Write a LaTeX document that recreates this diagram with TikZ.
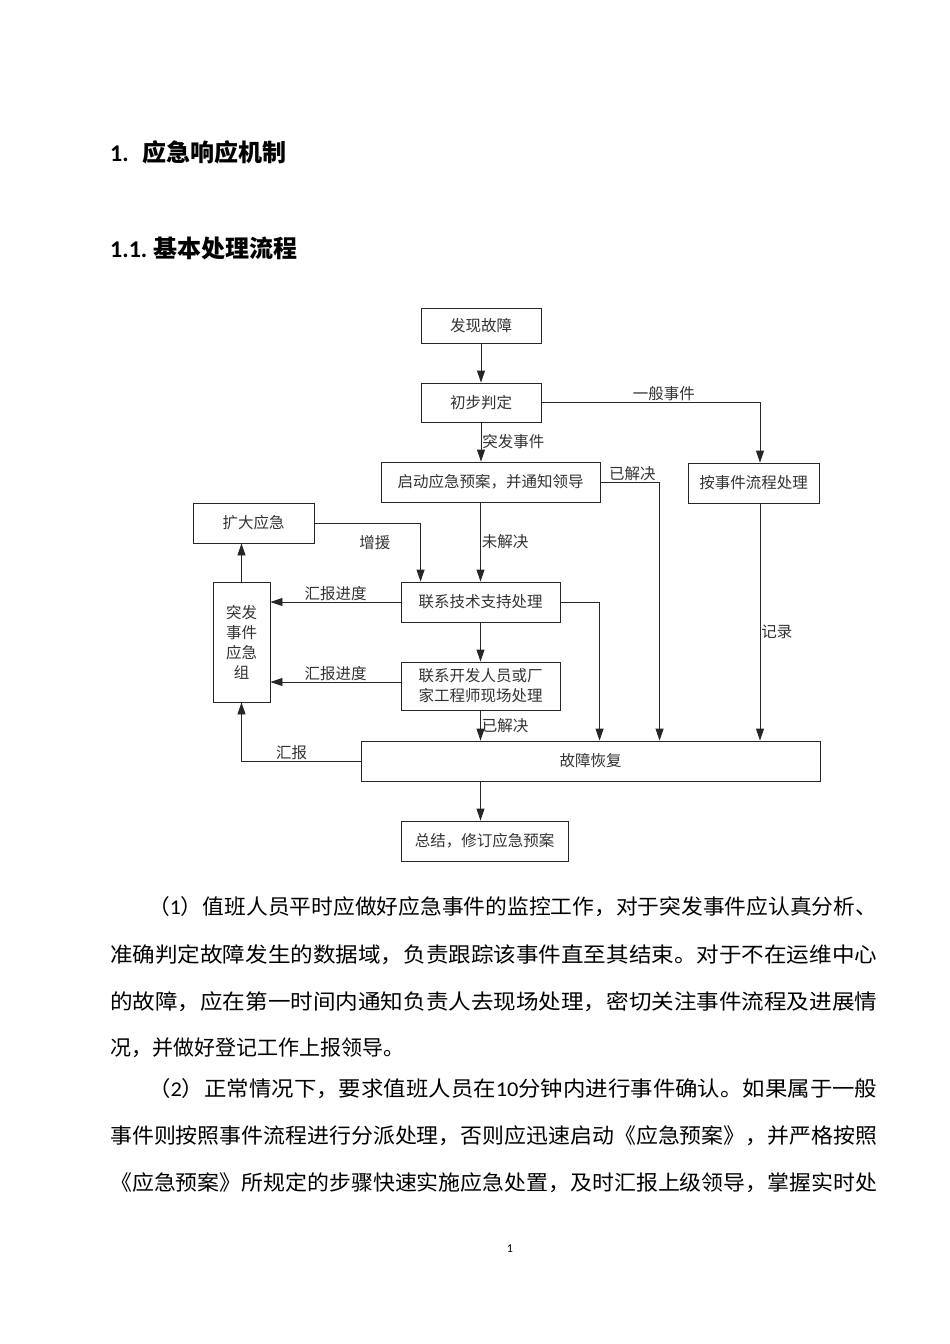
\documentclass[tikz,border=0pt]{standalone}
\usepackage{fontspec}
\usepackage{graphicx}
\setmainfont{Carlito}
\newfontfamily\cjk{Noto Sans CJK SC}
\usetikzlibrary{arrows.meta,calc}
\newcommand\jline[2]{\resizebox{#1pt}{\height}{#2}}
\begin{document}
\begin{tikzpicture}[x=1pt,y=-1pt,
  fc/.style={font=\cjk\fontsize{15.5}{20}\selectfont, text=black!80},
  box/.style={draw=black!85, line width=0.9pt, fc, inner sep=0pt, align=center},
  arr/.style={draw=black!85, line width=0.9pt, -{Triangle[length=12pt,width=8pt]}},
  lbl/.style={fc, inner sep=1pt},
  body/.style={font=\cjk\fontsize{21}{24}\selectfont, anchor=west, inner sep=0pt},
  head/.style={font=\bfseries\fontsize{24}{28}\selectfont, anchor=west, inner sep=0pt},
]
\useasboundingbox[fill=white] (0,0) rectangle (950,1344);

% headings
\node[head] (h1) at (110,152) {1.\hspace{14pt}{\cjk 应急响应机制}};
\node[head] (h2) at (110,248) {1.1.\hspace{6pt}{\cjk 基本处理流程}};

% flowchart boxes
\node[box, minimum width=120, minimum height=35] (found) at (481,325.5) {发现故障};
\node[box, minimum width=120, minimum height=39] (judge) at (481,402.5) {初步判定};
\node[box, minimum width=219, minimum height=40] (start) at (490.5,482) {启动应急预案，并通知领导};
\node[box, minimum width=131, minimum height=40] (normal) at (753.5,483) {按事件流程处理};
\node[box, minimum width=121, minimum height=40] (expand) at (253.5,523) {扩大应急};
\node[box, minimum width=57, minimum height=120] (group) at (241.5,642) {突发\\事件\\应急\\组};
\node[box, minimum width=159, minimum height=40] (tech) at (480.5,602) {联系技术支持处理};
\node[box, minimum width=159, minimum height=48] (dev) at (480.5,686) {联系开发人员或厂\\家工程师现场处理};
\node[box, minimum width=459, minimum height=40] (recover) at (590.5,761) {故障恢复};
\node[box, minimum width=167, minimum height=40] (summary) at (484.5,841) {总结，修订应急预案};

\coordinate (nS) at ([xshift=6.5pt]normal.south);

% connectors
\draw[arr] (found.south) -- (judge.north);
\draw[arr] (judge.south) -- (judge.south |- start.north) node[lbl, midway, anchor=west] {突发事件};
\draw[arr] (judge.east) -| ([xshift=6.5pt]normal.north) node[lbl, pos=0.28, above] {一般事件};
\draw[arr] (start.east) -| ($(recover.north west)+(299,0)$) node[lbl, pos=0.27, above] {已解决};
\draw[arr] (nS) -- (nS |- recover.north) node[lbl, pos=0.54, right] {记录};
\draw[arr] (tech.north |- start.south) -- (tech.north) node[lbl, midway, right] {未解决};
\draw[arr] (expand.east) -| ($(tech.north west)+(20,0)$) node[lbl, pos=0.285, below=11pt] {增援};
\draw[arr] (tech.west) -- (tech.west -| group.east) node[lbl, midway, above] {汇报进度};
\draw[arr] ([yshift=4pt]dev.west) -- ([yshift=4pt]dev.west -| group.east) node[lbl, midway, above] {汇报进度};
\draw[arr] (tech.east) -| ($(recover.north west)+(239,0)$);
\draw[arr] (tech.south) -- (dev.north);
\draw[arr] (dev.south) -- (dev.south |- recover.north) node[lbl, midway, right] {已解决};
\draw[arr] (recover.west) -| (group.south) node[lbl, pos=0.29, above] {汇报};
\draw[arr] (group.north) -- (group.north |- expand.south);
\draw[arr] (dev.south |- recover.south) -- (dev.south |- summary.north);

% body text
\node[body] (l1) at (148,907) {\jline{729}{（{\rmfamily 1}）值班人员平时应做好应急事件的监控工作，对于突发事件应认真分析、}};
\node[body] (l2) at (110,955) {\jline{767}{准确判定故障发生的数据域，负责跟踪该事件直至其结束。对于不在运维中心}};
\node[body] (l3) at (110,1002) {\jline{767}{的故障，应在第一时间内通知负责人去现场处理，密切关注事件流程及进展情}};
\node[body] (l4) at (110,1048) {况，并做好登记工作上报领导。};
\node[body] (l5) at (148,1089) {\jline{729}{（{\rmfamily 2}）正常情况下，要求值班人员在{\rmfamily 10}分钟内进行事件确认。如果属于一般}};
\node[body] (l6) at (110,1136) {\jline{767}{事件则按照事件流程进行分派处理，否则应迅速启动《应急预案》，并严格按照}};
\node[body] (l7) at (110,1183) {\jline{767}{《应急预案》所规定的步骤快速实施应急处置，及时汇报上级领导，掌握实时处}};

\node[font=\fontsize{12}{14}\selectfont, inner sep=0pt] (pg) at (510,1249) {1};
\end{tikzpicture}
\end{document}
